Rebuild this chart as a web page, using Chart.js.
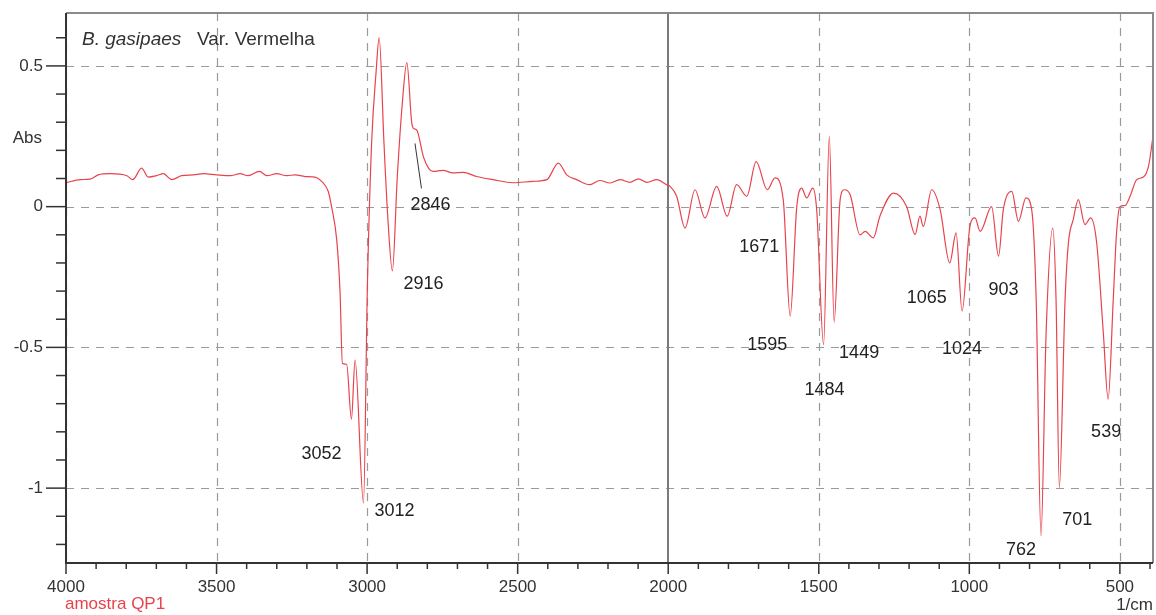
<!DOCTYPE html>
<html>
<head>
<meta charset="utf-8">
<script src="https://cdn.jsdelivr.net/npm/chart.js@4.4.1/dist/chart.umd.min.js"></script>
<style>
  body { margin: 0; background: #fff; }
  canvas { display: block; }
</style>
</head>
<body>
<canvas id="spectrum" width="1156" height="615"></canvas>
<script>
// FTIR spectrum, wavenumber (1/cm) against absorbance
const wavenumber = [
  4000, 3953, 3920, 3893, 3854, 3798, 3778, 3749, 3727, 3699, 3677, 3649, 3616, 3577, 3544,
  3500, 3455, 3422, 3395, 3358, 3333, 3300, 3267, 3239, 3206, 3173, 3151, 3129, 3118, 3101,
  3090, 3082, 3068, 3052, 3040, 3012, 2999, 2985, 2970, 2960, 2944, 2932, 2916, 2900, 2884,
  2868, 2852, 2846, 2835, 2813, 2795, 2781, 2748, 2715, 2682, 2636, 2582, 2515, 2449, 2403,
  2365, 2337, 2304, 2260, 2227, 2193, 2160, 2127, 2099, 2071, 2038, 2005, 1994, 1972, 1944,
  1911, 1878, 1839, 1804, 1773, 1739, 1708, 1671, 1645, 1618, 1595, 1573, 1557, 1540, 1520,
  1507, 1484, 1465, 1449, 1429, 1415, 1396, 1363, 1346, 1319, 1297, 1252, 1208, 1180, 1164,
  1153, 1125, 1097, 1065, 1044, 1024, 998, 981, 964, 926, 903, 887, 859, 837, 812,
  793, 778, 762, 745, 723, 712, 701, 682, 671, 655, 638, 616, 597, 577, 555,
  539, 522, 511, 500, 483, 466, 444, 422, 405, 390
];
const absorbance = [
  0.085, 0.096, 0.098, 0.113, 0.117, 0.110, 0.096, 0.137, 0.105, 0.110, 0.117, 0.096, 0.110, 0.113, 0.117,
  0.113, 0.110, 0.117, 0.110, 0.125, 0.110, 0.117, 0.110, 0.113, 0.107, 0.105, 0.090, 0.054, 0.000, -0.117,
  -0.300, -0.557, -0.560, -0.755, -0.545, -1.053, -0.279, 0.227, 0.481, 0.601, 0.227, -0.025, -0.228, 0.101, 0.355,
  0.512, 0.300, 0.278, 0.272, 0.177, 0.135, 0.125, 0.129, 0.120, 0.122, 0.107, 0.096, 0.085, 0.090, 0.096,
  0.155, 0.113, 0.096, 0.078, 0.093, 0.084, 0.096, 0.086, 0.099, 0.086, 0.096, 0.078, 0.072, 0.037, -0.076,
  0.060, -0.040, 0.072, -0.034, 0.078, 0.037, 0.160, 0.060, 0.102, 0.025, -0.389, 0.000, 0.066, 0.031, 0.066,
  -0.010, -0.490, 0.249, -0.410, 0.025, 0.060, 0.043, -0.100, -0.088, -0.111, -0.034, 0.048, 0.000, -0.099, -0.034,
  -0.070, 0.060, -0.010, -0.200, -0.093, -0.371, -0.070, -0.040, -0.088, 0.000, -0.176, -0.010, 0.054, -0.052, 0.031,
  -0.010, -0.330, -1.169, -0.448, -0.076, -0.330, -0.998, -0.330, -0.129, -0.046, 0.025, -0.064, -0.040, -0.129, -0.448,
  -0.684, -0.330, -0.093, 0.000, 0.004, 0.037, 0.096, 0.105, 0.143, 0.249
];

// labelled bands
const peakMarks = [3052, 3012, 2916, 2846, 1671, 1595, 1484, 1449, 1065, 1024, 903, 762, 701, 539];

const xTicks = [4000, 3500, 3000, 2500, 2000, 1500, 1000, 500];
const yTicks = [0.5, 0, -0.5, -1];

// where each band label sits relative to its point, in px
const peakOffsets = {
  3052: [-30, 35], 3012: [31, 8], 2916: [31, 13], 2846: [17, 77],
  1671: [-8, 57], 1595: [-23, 29], 1484: [1, 45], 1449: [25, 31],
  1065: [-23, 35], 1024: [0, 38], 903: [5, 34],
  762: [-20, 14], 701: [18, 32], 539: [-2, 33]
};

const FONT = "'Liberation Sans', Arial, sans-serif";
const TEXT = "#333";

const points = wavenumber.map((w, i) => ({ x: w, y: absorbance[i] }));

const frame = {
  id: "frame",
  beforeDatasetsDraw(chart) {
    const { ctx, chartArea: a, scales: { x, y } } = chart;
    ctx.save();
    ctx.strokeStyle = "#9a9a9a";
    ctx.lineWidth = 1.2;
    ctx.setLineDash([8, 7]);
    xTicks.forEach(v => {
      if (v === 2000) return;
      const px = Math.round(x.getPixelForValue(v)) + 0.5;
      ctx.beginPath(); ctx.moveTo(px, a.top); ctx.lineTo(px, a.bottom); ctx.stroke();
    });
    yTicks.forEach(v => {
      const py = Math.round(y.getPixelForValue(v)) + 0.5;
      ctx.beginPath(); ctx.moveTo(a.left, py); ctx.lineTo(a.right, py); ctx.stroke();
    });
    // solid divider at 2000
    ctx.setLineDash([]);
    ctx.strokeStyle = "#7a7a7a";
    ctx.lineWidth = 2;
    const p2000 = Math.round(x.getPixelForValue(2000));
    ctx.beginPath(); ctx.moveTo(p2000, a.top); ctx.lineTo(p2000, a.bottom); ctx.stroke();
    ctx.restore();
  },
  afterDatasetsDraw(chart) {
    const { ctx, chartArea: a, scales: { x, y } } = chart;
    ctx.save();

    // box: grey top/right, dark axes left/bottom
    ctx.lineWidth = 2;
    ctx.strokeStyle = "#8a8a8a";
    ctx.beginPath();
    ctx.moveTo(a.left, a.top); ctx.lineTo(a.right, a.top); ctx.lineTo(a.right, a.bottom);
    ctx.stroke();
    ctx.strokeStyle = "#333";
    ctx.beginPath();
    ctx.moveTo(a.left, a.top); ctx.lineTo(a.left, a.bottom); ctx.lineTo(a.right, a.bottom);
    ctx.stroke();

    // tick marks
    ctx.lineWidth = 1.5;
    for (let v = 4000; v >= 400; v -= 100) {
      const px = x.getPixelForValue(v);
      const len = v % 500 === 0 ? 11 : 6;
      ctx.beginPath(); ctx.moveTo(px, a.bottom); ctx.lineTo(px, a.bottom + len); ctx.stroke();
    }
    for (let k = -12; k <= 6; k++) {
      const py = y.getPixelForValue(k / 10);
      const len = k % 5 === 0 ? 20 : 10;
      ctx.beginPath(); ctx.moveTo(a.left, py); ctx.lineTo(a.left - len, py); ctx.stroke();
    }

    // band labels
    ctx.fillStyle = "#222";
    ctx.font = "18px " + FONT;
    ctx.textAlign = "center";
    ctx.textBaseline = "middle";
    peakMarks.forEach(w => {
      const i = wavenumber.indexOf(w);
      const px = x.getPixelForValue(w);
      const py = y.getPixelForValue(absorbance[i]);
      const [dx, dy] = peakOffsets[w];
      ctx.fillText(String(w), px + dx, py + dy);
      if (w === 2846) {
        ctx.strokeStyle = "#333";
        ctx.lineWidth = 1;
        ctx.beginPath(); ctx.moveTo(px + 1.5, py + 15); ctx.lineTo(px + 8, py + 60); ctx.stroke();
      }
    });
    ctx.restore();
  },
  afterDraw(chart) {
    const { ctx, chartArea: a } = chart;
    ctx.save();
    ctx.fillStyle = TEXT;
    ctx.textBaseline = "alphabetic";
    ctx.textAlign = "left";
    ctx.font = "italic 19px " + FONT;
    ctx.fillText("B. gasipaes", 82, 45);
    ctx.font = "19px " + FONT;
    ctx.fillText("Var. Vermelha", 197, 45);

    ctx.font = "17px " + FONT;
    ctx.textBaseline = "middle";
    ctx.textAlign = "right";
    ctx.fillText("Abs", 42, 138);
    ctx.fillText("1/cm", a.right, 605);
    ctx.textAlign = "left";
    ctx.fillStyle = "#e8434d";
    ctx.fillText("amostra QP1", 65, 604);
    ctx.restore();
  }
};

new Chart(document.getElementById("spectrum"), {
  type: "line",
  data: {
    datasets: [{
      data: points,
      borderColor: "#e8434d",
      borderWidth: 1.2,
      pointRadius: 0,
      fill: false,
      cubicInterpolationMode: "monotone"
    }]
  },
  options: {
    responsive: false,
    animation: false,
    layout: { padding: { top: 13, right: 3, left: 0, bottom: 0 } },
    plugins: { legend: { display: false }, tooltip: { enabled: false } },
    scales: {
      x: {
        type: "linear",
        reverse: true,
        min: 390,
        max: 4000,
        grid: { display: false, drawTicks: false },
        border: { display: false },
        afterBuildTicks: s => { s.ticks = xTicks.map(v => ({ value: v })); },
        afterFit: s => { s.height = 52; s.paddingLeft = 0; s.paddingRight = 0; },
        ticks: {
          padding: 14, color: TEXT, font: { family: FONT, size: 17 },
          maxRotation: 0, autoSkip: false,
          callback: v => String(v)
        }
      },
      y: {
        min: -1.266,
        max: 0.688,
        grid: { display: false, drawTicks: false },
        border: { display: false },
        afterBuildTicks: s => { s.ticks = yTicks.map(v => ({ value: v })); },
        afterFit: s => { s.width = 66; s.paddingTop = 0; s.paddingBottom = 0; },
        ticks: {
          padding: 23, color: TEXT, font: { family: FONT, size: 17 },
          callback: v => String(v)
        }
      }
    }
  },
  plugins: [frame]
});
</script>
</body>
</html>
